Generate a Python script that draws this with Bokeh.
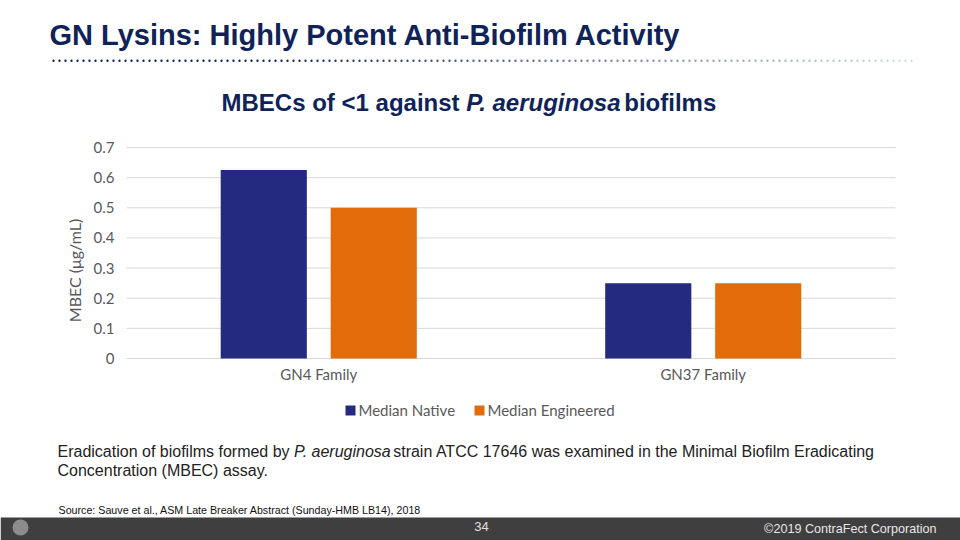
from bokeh.plotting import figure
from bokeh.models import Range1d, ColumnDataSource, FixedTicker, Label, BoxAnnotation
from bokeh.embed import file_html
from bokeh.resources import INLINE
import numpy as np

# ---------------- data ----------------
categories = ["GN4 Family", "GN37 Family"]
median_native = [0.625, 0.25]
median_engineered = [0.5, 0.25]
series_labels = ["Median Native", "Median Engineered"]
y_ticks = [0, 0.1, 0.2, 0.3, 0.4, 0.5, 0.6, 0.7]
y_tick_labels = ["0", "0.1", "0.2", "0.3", "0.4", "0.5", "0.6", "0.7"]

TITLE = "GN Lysins: Highly Potent Anti-Biofilm Activity"
SUB_1 = "MBECs of <1 against"
SUB_2 = "P. aeruginosa"
SUB_3 = "biofilms"
PARA_1A = "Eradication of biofilms formed by"
PARA_1B = "P. aeruginosa"
PARA_1C = "strain ATCC 17646 was examined in the Minimal Biofilm Eradicating"
PARA_2 = "Concentration (MBEC) assay."
SOURCE = "Source: Sauve et al., ASM Late Breaker Abstract (Sunday-HMB LB14), 2018"
PAGE = "34"
COPY = "\u00a92019 ContraFect Corporation"

NAVY = "#232a80"
ORANGE = "#e36c0a"
SERIES_COLORS = [NAVY, ORANGE]
TITLE_C = "#0f2359"
GRAY = "#595959"
ARIAL = "Liberation Sans"
CAL = "Lato"

W, H = 960, 540
FL, FR, FT, FB = 126, 895, 147, 358   # chart area in page pixels
YMAX = 0.7

# category slots: slot i is centred at i + 0.5 on a numeric axis
n = len(categories)
centers = [i + 0.5 for i in range(n)]
OFF, BW = 0.143, 0.224

# the plot frame covers the whole canvas; ranges are chosen so that the
# chart area (0..n, 0..YMAX) lands on the FL..FR / FB..FT pixel box
xu = (FR - FL) / n
yu = (FB - FT) / YMAX
x0 = -FL / xu
y0 = -(H - FB) / yu
p = figure(width=W, height=H, x_range=Range1d(x0, x0 + W / xu),
           y_range=Range1d(y0, y0 + H / yu), output_backend="svg", toolbar_location=None,
           min_border=0)
p.outline_line_color = None
p.background_fill_color = "white"
p.border_fill_color = "white"
# page-pixel helper ranges (identity mapping onto the canvas)
p.extra_x_ranges = {"px": Range1d(0, W)}
p.extra_y_ranges = {"px": Range1d(H, 0)}

p.grid.visible = False
# horizontal gridlines across the chart area only
p.segment(x0=[0] * len(y_ticks), x1=[n] * len(y_ticks), y0=y_ticks, y1=y_ticks,
          line_color="#d9d9d9", line_width=1)

src = ColumnDataSource(dict(xn=[c - OFF for c in centers], xe=[c + OFF for c in centers],
                            native=median_native, engineered=median_engineered))
p.vbar(x="xn", top="native", width=BW, source=src, fill_color=NAVY, line_color=None)
p.vbar(x="xe", top="engineered", width=BW, source=src, fill_color=ORANGE, line_color=None)

p.yaxis.ticker = FixedTicker(ticks=y_ticks)
p.yaxis.major_label_overrides = {k: v for k, v in zip(y_ticks, y_tick_labels)}
p.xaxis.ticker = FixedTicker(ticks=centers)
p.xaxis.major_label_overrides = {k: v for k, v in zip(centers, categories)}
p.yaxis.fixed_location = 0
p.xaxis.fixed_location = 0
for ax in (p.xaxis[0], p.yaxis[0]):
    ax.axis_line_color = None
    ax.major_tick_line_color = None
    ax.minor_tick_line_color = None
    ax.major_tick_out = 0
    ax.major_tick_in = 0
    ax.major_label_text_font = CAL
    ax.major_label_text_font_size = "15px"
    ax.major_label_text_color = GRAY
p.yaxis.major_label_standoff = 12
p.xaxis.major_label_standoff = 6
p.yaxis.axis_label = "MBEC (\u03bcg/mL)"
p.yaxis.axis_label_text_font = CAL
p.yaxis.axis_label_text_font_style = "normal"
p.yaxis.axis_label_text_font_size = "16px"
p.yaxis.axis_label_text_color = GRAY
p.yaxis.axis_label_standoff = 7


def label(x, y, text, size, color, font=ARIAL, style="normal", align="left"):
    p.add_layout(Label(x=x, y=y, text=text, x_range_name="px", y_range_name="px",
                       text_font=font, text_font_style=style, text_font_size=size,
                       text_color=color, text_align=align, text_baseline="alphabetic"))


def box(l, r, t, b, color, radius=0):
    p.add_layout(BoxAnnotation(left=l, right=r, top=t, bottom=b, x_range_name="px",
                               y_range_name="px", fill_color=color, fill_alpha=1,
                               line_color=None, border_radius=radius, level="underlay"))


# ---------------- legend (below the axis) ----------------
leg_x = [345, 474]
for lx, name, col in zip(leg_x, series_labels, SERIES_COLORS):
    box(lx, lx + 10, 405, 415, col)
    label(lx + 13, 409.5, name, "15px", GRAY, font=CAL)

# ---------------- header ----------------
label(49, 34, TITLE, "29px", TITLE_C, style="bold")

dx = np.arange(53, 913, 6.0)
t = (dx - dx.min()) / (dx.max() - dx.min())
t = np.clip((t - 0.25) / 0.75, 0, 1)
c0 = np.array([22, 36, 90])
c1 = np.array([212, 220, 232])
for xi, ti in zip(dx, t):
    col = "#%02x%02x%02x" % tuple((c0 + (c1 - c0) * ti).astype(int))
    box(xi - 1.1, xi + 1.1, 59, 61.4, col, 1)

fs = 24
sx1 = 221
sx2 = sx1 + 10.197 * fs
sx3 = sx2 + (6.558 + 0.278) * fs - 6
label(sx1, 102, SUB_1, f"{fs}px", TITLE_C, style="bold")
label(sx2, 102, SUB_2, f"{fs}px", TITLE_C, style="bold italic")
label(sx3, 102, SUB_3, f"{fs}px", TITLE_C, style="bold")

# ---------------- paragraph & footer ----------------
pf = 16
px1 = 57
px2 = px1 + 14.783 * pf
px3 = px2 + (6.170 + 0.278) * pf - 4
label(px1, 451, PARA_1A, f"{pf}px", "#222222")
label(px2, 451, PARA_1B, f"{pf}px", "#222222", style="italic")
label(px3, 451, PARA_1C, f"{pf}px", "#222222")
label(px1, 470, PARA_2, f"{pf}px", "#222222")
label(58, 509, SOURCE, "10.7px", "#111111")

box(0, 960, 517, 540, "#3f3f3f")
box(12, 28, 519, 535, "#8c8c8c", 8)
label(481, 526, PAGE, "13px", "#e0e0e0", align="center")
label(936, 528, COPY, "12.6px", "#e8e8e8", align="right")

open("out.html", "w").write(file_html(p, INLINE))
